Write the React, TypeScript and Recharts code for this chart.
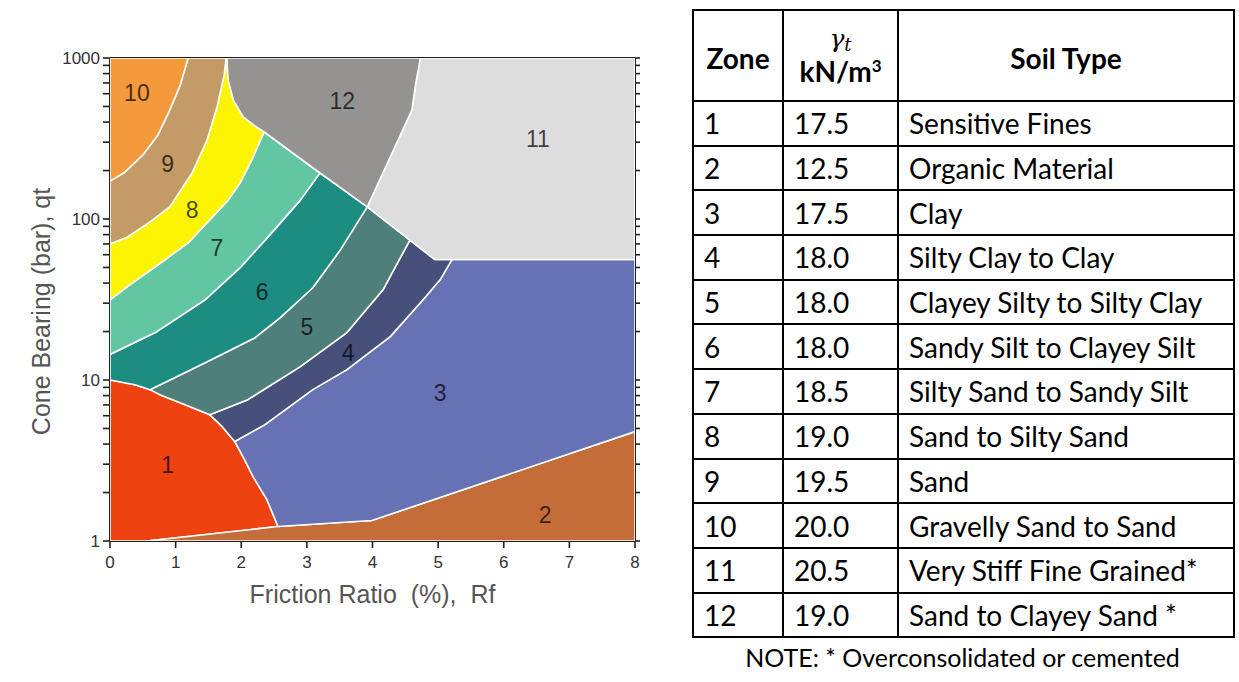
import React from 'react'
import { ScatterChart, Scatter, XAxis, YAxis } from 'recharts'

type Pt = { x: number; y: number }

// zone outlines (Rf %, qt bar)
const zone1: Pt[] = [
  { x: 0, y: 1 }, { x: 0, y: 10 }, { x: 0.38, y: 9.35 }, { x: 0.61, y: 8.71 },
  { x: 0.76, y: 8.11 }, { x: 1.22, y: 6.83 }, { x: 1.52, y: 6.09 }, { x: 1.71, y: 5.13 },
  { x: 1.9, y: 4.15 }, { x: 2.05, y: 3.2 }, { x: 2.18, y: 2.51 }, { x: 2.39, y: 1.81 },
  { x: 2.56, y: 1.23 }, { x: 0.56, y: 1 },
]
const zone2: Pt[] = [
  { x: 0.56, y: 1 }, { x: 2.56, y: 1.23 }, { x: 3.99, y: 1.34 }, { x: 8, y: 4.78 }, { x: 8, y: 1 },
]
const zone3: Pt[] = [
  { x: 5.21, y: 56 }, { x: 8, y: 56 }, { x: 8, y: 4.78 }, { x: 3.99, y: 1.34 }, { x: 2.56, y: 1.23 },
  { x: 2.39, y: 1.81 }, { x: 2.18, y: 2.51 }, { x: 2.05, y: 3.2 }, { x: 1.9, y: 4.15 },
  { x: 2.36, y: 5.28 }, { x: 3.09, y: 8.71 }, { x: 3.61, y: 11.6 }, { x: 4.27, y: 18.6 },
  { x: 4.77, y: 31.5 }, { x: 5.03, y: 41.9 },
]
const zone4: Pt[] = [
  { x: 1.52, y: 6.09 }, { x: 2.1, y: 7.55 }, { x: 2.9, y: 12.1 }, { x: 3.61, y: 19.7 },
  { x: 4.16, y: 36.3 }, { x: 4.34, y: 49.7 }, { x: 4.57, y: 74 }, { x: 4.95, y: 56 },
  { x: 5.21, y: 56 }, { x: 5.03, y: 41.9 }, { x: 4.77, y: 31.5 }, { x: 4.27, y: 18.6 },
  { x: 3.61, y: 11.6 }, { x: 3.09, y: 8.71 }, { x: 2.36, y: 5.28 }, { x: 1.9, y: 4.15 },
  { x: 1.71, y: 5.13 },
]
const zone5: Pt[] = [
  { x: 0.61, y: 8.71 }, { x: 1.45, y: 12.8 }, { x: 2.21, y: 18.3 }, { x: 2.59, y: 24.3 },
  { x: 3.09, y: 37.4 }, { x: 3.51, y: 64.3 }, { x: 3.92, y: 119 }, { x: 4.57, y: 74 },
  { x: 4.34, y: 49.7 }, { x: 4.16, y: 36.3 }, { x: 3.61, y: 19.7 }, { x: 2.9, y: 12.1 },
  { x: 2.1, y: 7.55 }, { x: 1.52, y: 6.09 }, { x: 1.22, y: 6.83 }, { x: 0.76, y: 8.11 },
]
const zone6: Pt[] = [
  { x: 0, y: 14.4 }, { x: 0.69, y: 19.7 }, { x: 1.45, y: 31.5 }, { x: 1.98, y: 49.7 },
  { x: 2.44, y: 80 }, { x: 2.9, y: 131 }, { x: 3.2, y: 193 }, { x: 3.92, y: 119 },
  { x: 3.51, y: 64.3 }, { x: 3.09, y: 37.4 }, { x: 2.59, y: 24.3 }, { x: 2.21, y: 18.3 },
  { x: 1.45, y: 12.8 }, { x: 0.61, y: 8.71 }, { x: 0.38, y: 9.35 }, { x: 0, y: 10 },
]
const zone7: Pt[] = [
  { x: 0, y: 31.5 }, { x: 0.3, y: 39 }, { x: 0.69, y: 50.5 }, { x: 1.19, y: 71 },
  { x: 1.49, y: 96 }, { x: 1.8, y: 131 }, { x: 1.98, y: 167 }, { x: 2.16, y: 233 },
  { x: 2.35, y: 347 }, { x: 3.2, y: 193 }, { x: 2.9, y: 131 }, { x: 2.44, y: 80 },
  { x: 1.98, y: 49.7 }, { x: 1.45, y: 31.5 }, { x: 0.69, y: 19.7 }, { x: 0, y: 14.4 },
]
const zone8: Pt[] = [
  { x: 1.77, y: 1000 }, { x: 1.74, y: 783 }, { x: 1.63, y: 496 }, { x: 1.48, y: 310 },
  { x: 1.25, y: 193 }, { x: 0.91, y: 119 }, { x: 0.61, y: 96 }, { x: 0.26, y: 77 },
  { x: 0, y: 70 }, { x: 0, y: 31.5 }, { x: 0.3, y: 39 }, { x: 0.69, y: 50.5 },
  { x: 1.19, y: 71 }, { x: 1.49, y: 96 }, { x: 1.8, y: 131 }, { x: 1.98, y: 167 },
  { x: 2.16, y: 233 }, { x: 2.35, y: 347 }, { x: 2.23, y: 373 }, { x: 2.03, y: 430 },
  { x: 1.88, y: 548 }, { x: 1.8, y: 729 }, { x: 1.78, y: 1000 },
]
const zone9: Pt[] = [
  { x: 1.19, y: 1000 }, { x: 1.07, y: 679 }, { x: 0.91, y: 475 }, { x: 0.73, y: 333 },
  { x: 0.5, y: 250 }, { x: 0.23, y: 196 }, { x: 0, y: 172 }, { x: 0, y: 70 },
  { x: 0.26, y: 77 }, { x: 0.61, y: 96 }, { x: 0.91, y: 119 }, { x: 1.25, y: 193 },
  { x: 1.48, y: 310 }, { x: 1.63, y: 496 }, { x: 1.74, y: 783 }, { x: 1.77, y: 1000 },
]
const zone10: Pt[] = [
  { x: 0, y: 1000 }, { x: 0, y: 172 }, { x: 0.23, y: 196 }, { x: 0.5, y: 250 },
  { x: 0.73, y: 333 }, { x: 0.91, y: 475 }, { x: 1.07, y: 679 }, { x: 1.19, y: 1000 },
]
const zone11: Pt[] = [
  { x: 4.73, y: 1000 }, { x: 8, y: 1000 }, { x: 8, y: 56 }, { x: 4.95, y: 56 },
  { x: 3.92, y: 119 }, { x: 4.6, y: 475 }, { x: 4.66, y: 699 },
]
const zone12: Pt[] = [
  { x: 1.78, y: 1000 }, { x: 4.73, y: 1000 }, { x: 4.66, y: 699 }, { x: 4.6, y: 475 },
  { x: 3.92, y: 119 }, { x: 3.2, y: 193 }, { x: 2.35, y: 347 }, { x: 2.23, y: 373 },
  { x: 2.03, y: 430 }, { x: 1.88, y: 548 }, { x: 1.8, y: 729 },
]

const zones = [
  { name: '1', pts: zone1, color: '#ee4211' },
  { name: '2', pts: zone2, color: '#c46d38' },
  { name: '3', pts: zone3, color: '#6672b3' },
  { name: '4', pts: zone4, color: '#46507a' },
  { name: '5', pts: zone5, color: '#4f7f7a' },
  { name: '6', pts: zone6, color: '#1d8d82' },
  { name: '7', pts: zone7, color: '#62c6a2' },
  { name: '8', pts: zone8, color: '#fdf401' },
  { name: '9', pts: zone9, color: '#c49b66' },
  { name: '10', pts: zone10, color: '#f4993c' },
  { name: '11', pts: zone11, color: '#dddddd' },
  { name: '12', pts: zone12, color: '#959292' },
]

const zoneLabels = [
  { x: 0.88, y: 2.96, label: '1' },
  { x: 6.63, y: 1.45, label: '2' },
  { x: 5.03, y: 8.3, label: '3' },
  { x: 3.63, y: 14.7, label: '4' },
  { x: 3.0, y: 21.3, label: '5' },
  { x: 2.32, y: 35, label: '6' },
  { x: 1.63, y: 65.7, label: '7' },
  { x: 1.25, y: 113, label: '8' },
  { x: 0.88, y: 221, label: '9' },
  { x: 0.41, y: 610, label: '10' },
  { x: 6.52, y: 316, label: '11' },
  { x: 3.54, y: 544, label: '12' },
]

const xTicks = [0, 1, 2, 3, 4, 5, 6, 7, 8]
const yTicks = [
  1, 2, 3, 4, 5, 6, 7, 8, 9, 10, 20, 30, 40, 50, 60, 70, 80, 90,
  100, 200, 300, 400, 500, 600, 700, 800, 900, 1000,
]
const yLabels = [1, 10, 100, 1000]

const tableZones = ['1', '2', '3', '4', '5', '6', '7', '8', '9', '10', '11', '12']
const unitWeights = ['17.5', '12.5', '17.5', '18.0', '18.0', '18.0', '18.5', '19.0', '19.5', '20.0', '20.5', '19.0']
const soilTypes = [
  'Sensitive Fines',
  'Organic Material',
  'Clay',
  'Silty Clay to Clay',
  'Clayey Silty to Silty Clay',
  'Sandy Silt to Clayey Silt',
  'Silty Sand to Sandy Silt',
  'Sand to Silty Sand',
  'Sand',
  'Gravelly Sand to Sand',
  'Very Stiff Fine Grained*',
  'Sand to Clayey Sand *',
]

const chartFont = '"Liberation Sans", Arial, sans-serif'
const tableFont = 'Lato, "Open Sans", sans-serif'
const axisColor = '#231f1c'

const NoDot = () => <g />
const NoTick = () => <g />

const ZoneText = (p: any) => (
  <text
    x={p.cx}
    y={p.cy}
    textAnchor="middle"
    dominantBaseline="central"
    fontSize={23}
    fill="#000"
    fillOpacity={0.72}
    fontFamily={chartFont}
  >
    {p.payload.label}
  </text>
)

const YTick = (p: any) => {
  if (!yLabels.includes(p.payload.value)) return <g />
  return (
    <text x={p.x} y={p.y} dy={6} textAnchor="end" fontSize={17} fill="#333" fontFamily={chartFont}>
      {p.payload.value}
    </text>
  )
}

const YTitle = (p: any) => {
  const vb = p.viewBox
  const cx = vb.x + 11
  const cy = vb.y + vb.height / 2 + 12
  return (
    <text
      x={cx}
      y={cy}
      transform={`rotate(-90 ${cx} ${cy})`}
      textAnchor="middle"
      dominantBaseline="central"
      fontSize={25}
      fill="#555"
      fontFamily={chartFont}
    >
      Cone Bearing (bar), qt
    </text>
  )
}

const XTitle = (p: any) => {
  const vb = p.viewBox
  return (
    <text
      x={vb.x + vb.width / 2}
      y={vb.y + vb.height + 22}
      textAnchor="middle"
      fontSize={25}
      fill="#555"
      fontFamily={chartFont}
      style={{ whiteSpace: 'pre' }}
    >
      {'Friction Ratio  (%),  Rf'}
    </text>
  )
}

const cell: React.CSSProperties = {
  border: '2px solid #000',
  padding: '0 0 0 10px',
  textAlign: 'left',
  verticalAlign: 'middle',
  height: 42.7,
  whiteSpace: 'nowrap',
}

const head: React.CSSProperties = {
  ...cell,
  padding: '4px 0 0 0',
  textAlign: 'center',
  fontWeight: 700,
  height: 85,
}

const tickLineStyle = { stroke: axisColor, strokeWidth: 1.6 }

export default function App() {
  return (
    <div style={{ position: 'absolute', left: 0, top: 0, width: 1239, height: 682, background: '#fff' }}>
      <div style={{ position: 'absolute', left: 0, top: 0 }}>
        <ScatterChart width={660} height={682} margin={{ top: 48, right: 17, bottom: 101, left: 30 }}>
          {zones.map((z) => (
            <Scatter
              key={z.name}
              data={[...z.pts, z.pts[0]]}
              line={{ fill: z.color, stroke: '#ffffff', strokeWidth: 1.6, strokeLinejoin: 'round' }}
              lineType="joint"
              lineJointType="linear"
              shape={NoDot}
              isAnimationActive={false}
              legendType="none"
            />
          ))}
          <Scatter data={zoneLabels} shape={ZoneText} isAnimationActive={false} legendType="none" />
          <XAxis
            type="number"
            dataKey="x"
            domain={[0, 8]}
            ticks={xTicks}
            interval={0}
            height={40}
            tickSize={7}
            tickMargin={8}
            stroke={axisColor}
            strokeWidth={2}
            tickLine={tickLineStyle}
            tick={{ fill: '#333', fontSize: 17, fontFamily: chartFont }}
            allowDataOverflow
            label={{ content: XTitle }}
          />
          <XAxis
            xAxisId="top"
            orientation="top"
            type="number"
            domain={[0, 8]}
            ticks={xTicks}
            interval={0}
            height={10}
            tickSize={4}
            tick={NoTick}
            tickLine={{ stroke: '#777', strokeWidth: 1.4 }}
            stroke={axisColor}
            strokeWidth={2}
            allowDataOverflow
          />
          <YAxis
            type="number"
            dataKey="y"
            scale="log"
            domain={[1, 1000]}
            ticks={yTicks}
            interval={0}
            width={80}
            tickSize={7}
            tickMargin={3}
            stroke={axisColor}
            strokeWidth={2}
            tickLine={tickLineStyle}
            tick={YTick}
            allowDataOverflow
            label={{ content: YTitle }}
          />
          <YAxis
            yAxisId="right"
            orientation="right"
            type="number"
            scale="log"
            domain={[1, 1000]}
            ticks={yTicks}
            interval={0}
            width={8}
            tickSize={5}
            tick={NoTick}
            tickLine={tickLineStyle}
            stroke={axisColor}
            strokeWidth={2}
            allowDataOverflow
          />
        </ScatterChart>
      </div>

      <table
        style={{
          position: 'absolute',
          left: 692,
          top: 9,
          width: 541,
          borderCollapse: 'collapse',
          fontFamily: tableFont,
          fontSize: 28,
          color: '#000',
          tableLayout: 'fixed',
        }}
      >
        <colgroup>
          <col style={{ width: 90 }} />
          <col style={{ width: 115 }} />
          <col style={{ width: 336 }} />
        </colgroup>
        <thead>
          <tr>
            <th style={head}>Zone</th>
            <th style={{ ...head, padding: 0 }}>
              <div
                style={{
                  fontFamily: '"DejaVu Serif", serif',
                  fontStyle: 'italic',
                  fontWeight: 400,
                  fontSize: 25,
                  lineHeight: '30px',
                  height: 30,
                }}
              >
                γ<sub style={{ fontSize: 18, verticalAlign: '-0.2em', lineHeight: 0 }}>t</sub>
              </div>
              <div style={{ lineHeight: '34px', height: 34 }}>
                kN/m<sup style={{ fontSize: 17, verticalAlign: '0.6em', lineHeight: 0 }}>3</sup>
              </div>
            </th>
            <th style={head}>Soil Type</th>
          </tr>
        </thead>
        <tbody>
          {tableZones.map((z, i) => (
            <tr key={z}>
              <td style={cell}>{z}</td>
              <td style={cell}>{unitWeights[i]}</td>
              <td style={cell}>{soilTypes[i]}</td>
            </tr>
          ))}
        </tbody>
      </table>
      <div
        style={{
          position: 'absolute',
          left: 692,
          top: 642,
          width: 541,
          textAlign: 'center',
          fontFamily: tableFont,
          fontSize: 25,
        }}
      >
        NOTE: * Overconsolidated or cemented
      </div>
    </div>
  )
}
